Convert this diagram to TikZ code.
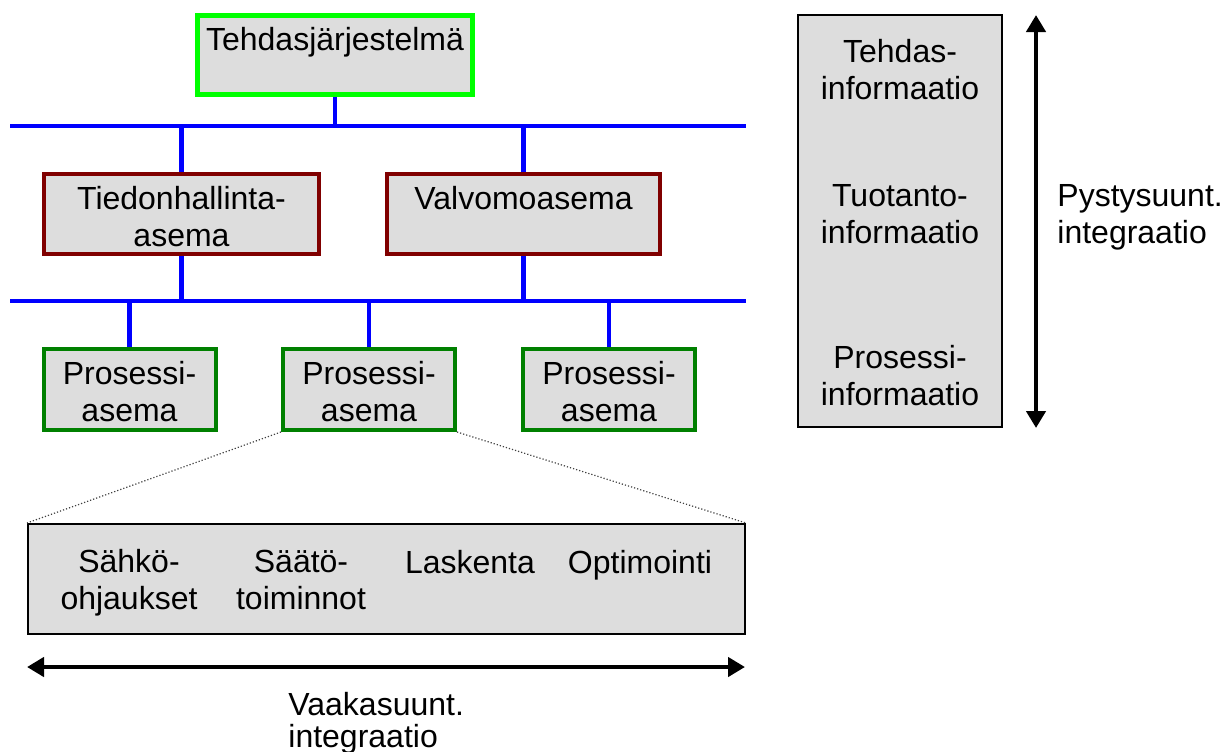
\documentclass[tikz,border=0pt]{standalone}
\usepackage{fontspec}
\setmainfont{Liberation Sans}
\usetikzlibrary{arrows.meta}
\definecolor{boxgray}{RGB}{221,221,221}
\definecolor{brightgreen}{RGB}{0,255,0}
\definecolor{darkred}{RGB}{128,0,0}
\definecolor{darkgreen}{RGB}{0,128,0}
\definecolor{busblue}{RGB}{0,0,255}
\begin{document}
\begin{tikzpicture}[x=0.5pt,y=-0.5pt,
  box/.style={draw, fill=boxgray, inner sep=0pt},
  topbox/.style={box, draw=brightgreen, line width=2.5pt, minimum width=137.5pt, minimum height=39.5pt},
  midbox/.style={box, draw=darkred, line width=2pt, minimum height=40pt},
  procbox/.style={box, draw=darkgreen, line width=2pt, minimum width=86pt, minimum height=40.5pt},
  infobox/.style={box, draw=black, line width=1pt},
  txt/.style={font=\fontsize{16}{18.3}\selectfont, align=center, inner sep=0pt, anchor=base},
  sidetxt/.style={txt, align=left, anchor=base west},
  bus/.style={draw=busblue, line width=2.4pt},
  zoomline/.style={draw=black!75, line width=0.6pt, densely dotted},
  bigarrow/.style={line width=2.3pt, {Triangle[length=8.5pt,width=9.5pt]}-{Triangle[length=8.5pt,width=9.5pt]}}
]
\useasboundingbox (0,0) rectangle (1229,751);

% buses
\coordinate (b1L) at (10,126);
\coordinate (b1R) at (746,126);
\coordinate (b2L) at (10,301);
\coordinate (b2R) at (746,301);
\draw[bus] (b1L) -- (b1R);
\draw[bus] (b2L) -- (b2R);

% boxes
\node[topbox] (top) at (335,55) {};
\node[midbox, minimum width=137.5pt] (tied) at (181.5,214) {};
\node[midbox, minimum width=136.5pt] (valv) at (523.5,214) {};
\node[procbox] (proc1) at (129.5,389.5) {};
\node[procbox] (proc2) at (369,389.5) {};
\node[procbox] (proc3) at (609,389.5) {};
\node[infobox, minimum width=358.5pt, minimum height=55pt] (funcs) at (386.5,579) {};
\node[infobox, minimum width=102pt, minimum height=206pt] (info) at (900,221) {};

% texts in boxes (anchor = baseline of the last line)
\node[txt] (ttop) at (335,50) {Tehdasjärjestelmä};
\node[txt] (ttied) at (181.5,246) {Tiedonhallinta-\\asema};
\node[txt] (tvalv) at (523.5,209) {Valvomoasema};
\node[txt] (tp1) at (129.5,421) {Prosessi-\\asema};
\node[txt] (tp2) at (369,421) {Prosessi-\\asema};
\node[txt] (tp3) at (609,421) {Prosessi-\\asema};
\node[txt] (tf1) at (129,609) {Sähkö-\\ohjaukset};
\node[txt] (tf2) at (301,609) {Säätö-\\toiminnot};
\node[txt] (tf3) at (470,573) {Laskenta};
\node[txt] (tf4) at (640,573) {Optimointi};
\node[txt] (ti1) at (900,99) {Tehdas-\\informaatio};
\node[txt] (ti2) at (900,243) {Tuotanto-\\informaatio};
\node[txt] (ti3) at (900,405) {Prosessi-\\informaatio};

% connectors
\draw[bus] (top.south) -- (top.south |- b1L);
\draw[bus] (tied.north |- b1L) -- (tied.north);
\draw[bus] (valv.north |- b1L) -- (valv.north);
\draw[bus] (tied.south) -- (tied.south |- b2L);
\draw[bus] (valv.south) -- (valv.south |- b2L);
\draw[bus] (proc1.north |- b2L) -- (proc1.north);
\draw[bus] (proc2.north |- b2L) -- (proc2.north);
\draw[bus] (proc3.north |- b2L) -- (proc3.north);

% zoom lines
\draw[zoomline] (proc2.south west) -- (funcs.north west);
\draw[zoomline] (proc2.south east) -- (funcs.north east);

% integration arrows
\coordinate (hL) at (27,667);
\coordinate (hR) at (745,667);
\draw[bigarrow] (hL) -- (hR);
\node[sidetxt, font=\fontsize{16}{16}\selectfont] (vaaka) at (288,747) {Vaakasuunt.\\integraatio};

\coordinate (vT) at (1036,15);
\coordinate (vB) at (1036,428);
\draw[bigarrow] (vT) -- (vB);
\node[sidetxt] (pysty) at (1057,243) {Pystysuunt.\\integraatio};
\end{tikzpicture}
\end{document}
